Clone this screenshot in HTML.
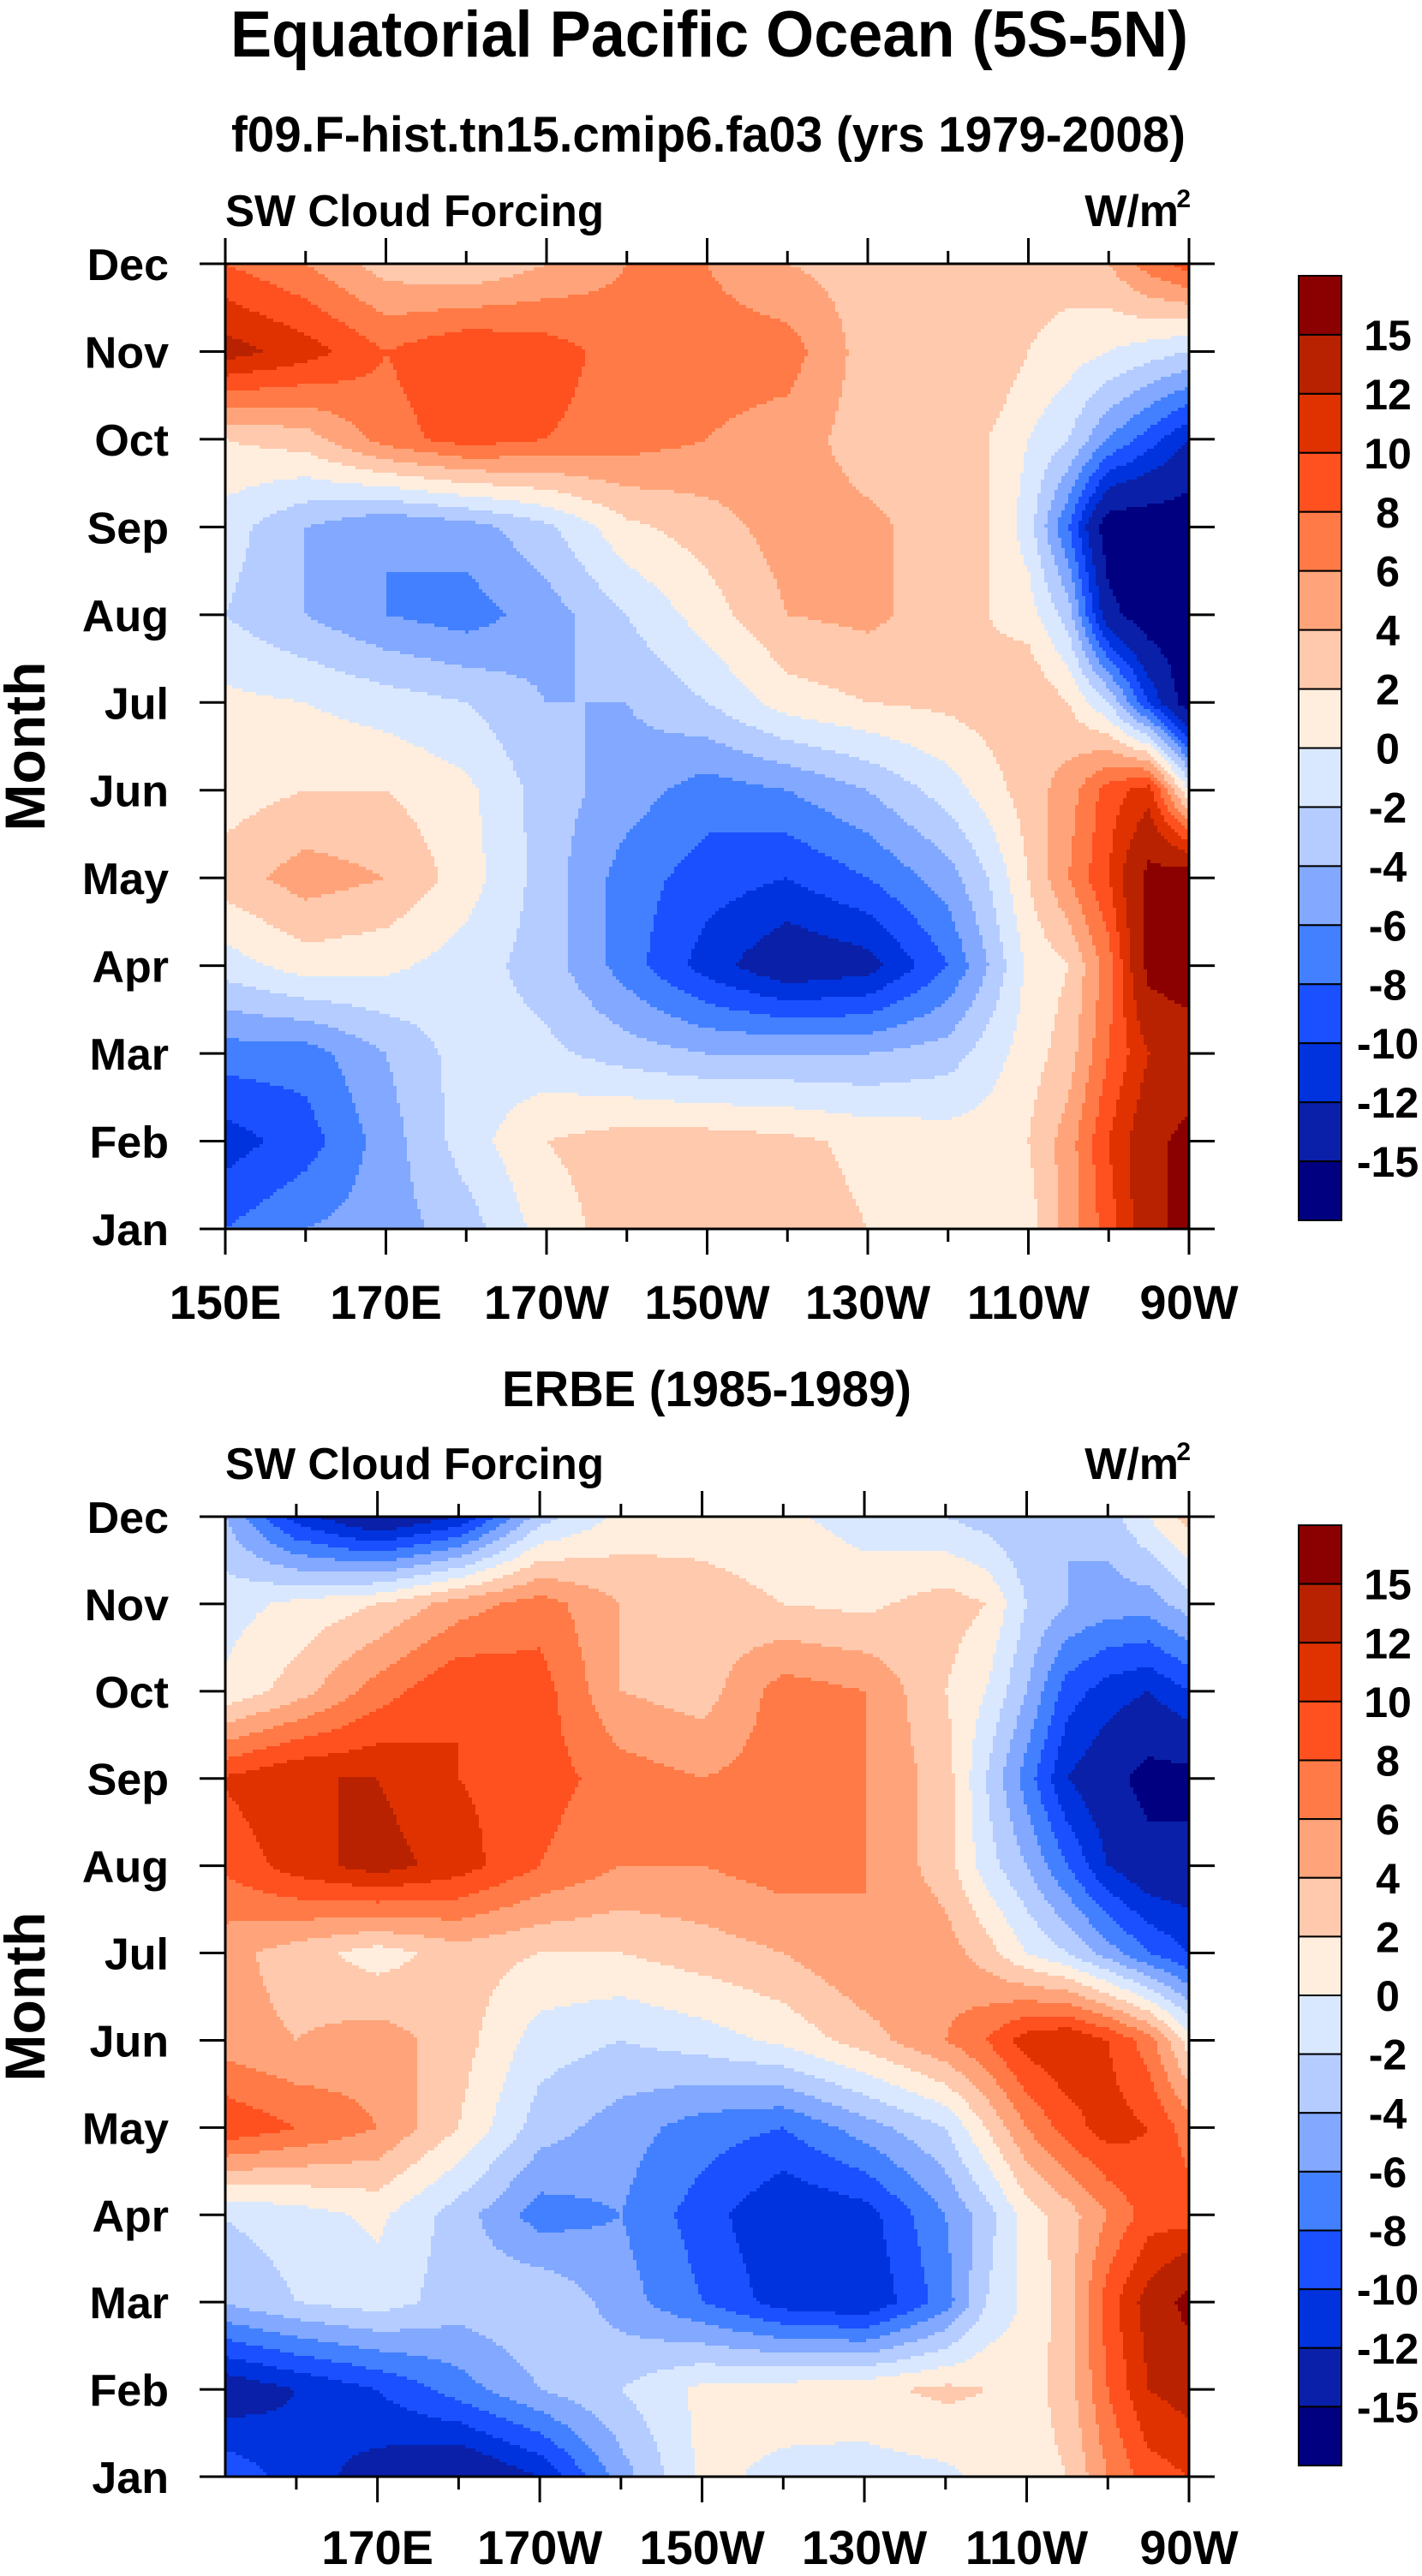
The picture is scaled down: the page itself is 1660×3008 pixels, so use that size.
<!DOCTYPE html>
<html><head><meta charset="utf-8">
<style>
html,body{margin:0;padding:0;background:#fff;}
svg{display:block;}
text{font-family:"Liberation Sans",Arial,sans-serif;font-weight:bold;fill:#000;}
</style></head>
<body>
<svg id="chart" width="1660" height="3008" viewBox="0 0 1660 3008" xmlns="http://www.w3.org/2000/svg">
<text x="828" y="66" font-size="76" text-anchor="middle" textLength="1118" lengthAdjust="spacingAndGlyphs">Equatorial Pacific Ocean (5S-5N)</text>
<text x="827" y="177" font-size="58" text-anchor="middle" textLength="1114" lengthAdjust="spacingAndGlyphs">f09.F-hist.tn15.cmip6.fa03 (yrs 1979-2008)</text>
<text x="825" y="1642" font-size="58" text-anchor="middle" textLength="478" lengthAdjust="spacingAndGlyphs">ERBE (1985-1989)</text>
<g id="p1"></g>
<g id="p2"></g>
</svg>
<script>
const months = ["Jan","Feb","Mar","Apr","May","Jun","Jul","Aug","Sep","Oct","Nov","Dec"];
const lons = [150,160,170,180,190,200,210,220,230,240,245,250,255,260,265,270];
const levels = [-15,-12,-10,-8,-6,-4,-2,0,2,4,6,8,10,12,15];
const levelLabels = ["15","12","10","8","6","4","2","0","-2","-4","-6","-8","-10","-12","-15"];
const colors = ["#000080","#0a20a8","#0033dd","#1a50ff","#4280ff","#82a8ff","#b4ccff","#d9e8ff","#ffeede","#ffc9ad","#ffa47a","#ff7a46","#ff5020","#e03200","#b82200","#8b0000"];
const modelJan = [-8,-6,-5,-3,1,3,3,3,2,1,1,1,5,9,14,16];
const modelFeb = [-11,-9,-5,-1,2,3,3,2.5,1.5,1,1,2,5,10,14,16];
const modelMar = [-7,-7,-4,-1,-1.5,-3,-4,-4,-4,-3,-1,1,3,8,12,13];
const modelApr = [-1,1,0.5,-1,-3,-7,-11,-14,-13,-8,-4,0.5,2,7,16,17];
const modelMay = [3,5,4,1,-3,-7,-9,-10,-8,-5,-2,2,6,10,16,17];
const modelJun = [1,2,2,0.5,-3,-5,-7,-6,-4,-1,1,3,5,9,11,0];
const modelJul = [0.5,0,-1,-2,-4,-4,-2,1,2,2.5,3,4,2,-2,-10,-17];
const modelAug = [-2,-4,-6,-7,-5,-2,1,4,4.5,3,2,1,-3,-14,-17,-17];
const modelSep = [-1,-4,-6,-5,-2.5,1.5,3,5,4.5,3,2,-1,-8,-17,-17,-17];
const modelOct = [2,3,7,9,8,7,6,5,3,2.5,2,0,-2,-6,-9,-12];
const modelNov = [13,11,8,10,9,7,7,7,3,3,4,2,1,0,-1,-2];
const modelDec = [8,6,3,2,4,6,6,4,3,3,3,3,3,4,7,9];
const erbeJan = [-8,-11,-13,-15,-12,-5,0.5,-0.5,-1,-0.5,0.5,1,2,6,9,10];
const erbeFeb = [-14,-12,-10,-7,-4,-2,0.5,1,1.5,2.5,2,1,3,8,12,13];
const erbeMar = [-4,-2,-1,-3,-2,-5,-8,-11,-12,-7,-2,0.5,3,9,13,16];
const erbeApr = [-2,-1,0.5,-3,-7,-6,-9,-12,-11,-6,-3,1,3,6,9,9];
const erbeMay = [10,8,6,2,-3,-5,-7,-8,-5,-2,2,6,9,11,10,7];
const erbeJun = [5,4,5,3,-1,-2,-1,0.5,3,6,8,11,12,10,7,1];
const erbeJul = [5,3,1,3,2,2,3,4,6,5,3,0,-2,-5,-8,-10];
const erbeAug = [8,11,13,11,8,6,6,7,6,3,-1,-4,-8,-12,-14,-14];
const erbeSep = [10,12,12,10,9,7,6,7,6,3,-2,-7,-12,-14,-16,-16];
const erbeOct = [0,3,7,10,9,4,3,7,6,2,0,-4,-9,-11,-12,-10];
const erbeNov = [-1,0.5,2,5,7,4,3,2,1.5,3,2,-2,-4,-5,-5,-3];
const erbeDec = [-3,-11,-15,-12,-3,0.5,1,0.5,-1,-2,-3,-4,-4,-3,0,3];
const modelRows = [modelJan,modelFeb,modelMar,modelApr,modelMay,modelJun,modelJul,modelAug,modelSep,modelOct,modelNov,modelDec];
const erbeRows = [erbeJan,erbeFeb,erbeMar,erbeApr,erbeMay,erbeJun,erbeJul,erbeAug,erbeSep,erbeOct,erbeNov,erbeDec];

const NS="http://www.w3.org/2000/svg";
function mk(tag,attrs,parent){const e=document.createElementNS(NS,tag);for(const k in attrs)e.setAttribute(k,attrs[k]);parent.appendChild(e);return e;}
function colorIndex(v){let i=0;while(i<levels.length&&v>=levels[i])i++;return i;}
function sample(rows,lon,m){
  let j=0;while(j<lons.length-2&&lon>lons[j+1])j++;
  let tx=(lon-lons[j])/(lons[j+1]-lons[j]);tx=Math.max(0,Math.min(1,tx));
  let i=Math.max(0,Math.min(10,Math.floor(m)));let ty=Math.max(0,Math.min(1,m-i));
  const a=rows[i][j],b=rows[i][j+1],c=rows[i+1][j],d=rows[i+1][j+1];
  return (a*(1-tx)+b*tx)*(1-ty)+(c*(1-tx)+d*tx)*ty;
}
function panel(g,rows,cfg){
  const {x0,x1,y0,y1,lonMin,lonMax}=cfg;
  const xs=lon=>x0+(lon-lonMin)/(lonMax-lonMin)*(x1-x0);
  const ys=mi=>y1-mi/11*(y1-y0);
  const field=mk('g',{},g);
  
  
  const st=4;
  function flush(xa,xb,y,c){
    const r=mk('rect',{x:xa,y:y,width:xb-xa+0.6,height:Math.min(st,y1-y)+0.6,fill:colors[c]},field);
    
    
  }
  for(let y=y0;y<y1;y+=st){
    const m=(y1-(y+st/2))/(y1-y0)*11;
    let runStart=x0,runC=-1;
    for(let x=x0;x<x1;x+=st){
      const xc=Math.min(x+st/2,x1);
      const lon=lonMin+(xc-x0)/(x1-x0)*(lonMax-lonMin);
      const c=colorIndex(sample(rows,lon,m));
      if(c!==runC){
        if(runC>=0)flush(runStart,x,y,runC);
        runStart=x;runC=c;
      }
    }
    if(runC>=0)flush(runStart,x1,y,runC);
  }
  const fr=mk('rect',{x:x0,y:y0,width:x1-x0,height:y1-y0,fill:'none',stroke:'#000','stroke-width':3},g);
  
  
  months.forEach((mn,i)=>{
    const y=ys(i);
    mk('line',{x1:x0-30,y1:y,x2:x0,y2:y,stroke:'#000','stroke-width':3},g);
    mk('line',{x1:x1,y1:y,x2:x1+30,y2:y,stroke:'#000','stroke-width':3},g);
    const t=mk('text',{x:x0-66,y:y+19,'font-size':52,'text-anchor':'end'},g);t.textContent=mn;
    
    
  });
  for(let lon=150;lon<=270;lon+=10){
    if(lon<lonMin-0.01)continue;
    const x=xs(lon);const major=cfg.majors.includes(lon);const L=major?30:15;
    mk('line',{x1:x,y1:y0-L,x2:x,y2:y0,stroke:'#000','stroke-width':3},g);
    mk('line',{x1:x,y1:y1,x2:x,y2:y1+L,stroke:'#000','stroke-width':3},g);
  }
  cfg.majors.forEach((lon,k)=>{
    const t=mk('text',{x:xs(lon),y:cfg.labelY,'font-size':56,'text-anchor':'middle'},g);t.textContent=cfg.majorLabels[k];
    
    
  });
  const s=mk('text',{x:x0,y:y0-44,'font-size':52,textLength:442,lengthAdjust:'spacingAndGlyphs'},g);s.textContent='SW Cloud Forcing';
  
  
  const u=mk('text',{x:x1-12,y:y0-44,'font-size':52,'text-anchor':'end'},g);u.textContent='W/m';
  
  
  const u2=mk('text',{x:x1+2,y:y0-66,'font-size':30,'text-anchor':'end'},g);u2.textContent='2';
  const mo=mk('text',{x:0,y:0,'font-size':66,'text-anchor':'middle',transform:`translate(52,${(y0+y1)/2}) rotate(-90)`},g);mo.textContent='Month';
  
  
  const cb=mk('g',{},g);
  
  
  const bh=(cfg.cb1-cfg.cb0)/colors.length;
  for(let k=0;k<colors.length;k++){
    const r=mk('rect',{x:1516,y:cfg.cb0+k*bh,width:50,height:bh,fill:colors[colors.length-1-k],stroke:'#000','stroke-width':2},cb);
    
    
  }
  levelLabels.forEach((lb,k)=>{
    const t=mk('text',{x:1620,y:cfg.cb0+(k+1)*bh+18,'font-size':50,'text-anchor':'middle'},cb);t.textContent=lb;
    
    
  });
}
panel(document.getElementById('p1'),modelRows,{x0:263,x1:1388,y0:308,y1:1435,lonMin:150,lonMax:270,
  majors:[150,170,190,210,230,250,270],majorLabels:["150E","170E","170W","150W","130W","110W","90W"],labelY:1540,cb0:322,cb1:1425});
panel(document.getElementById('p2'),erbeRows,{x0:263,x1:1388,y0:1771,y1:2892,lonMin:151.25,lonMax:270,
  majors:[170,190,210,230,250,270],majorLabels:["170E","170W","150W","130W","110W","90W"],labelY:2994,cb0:1781,cb1:2879});
</script>
</body></html>
